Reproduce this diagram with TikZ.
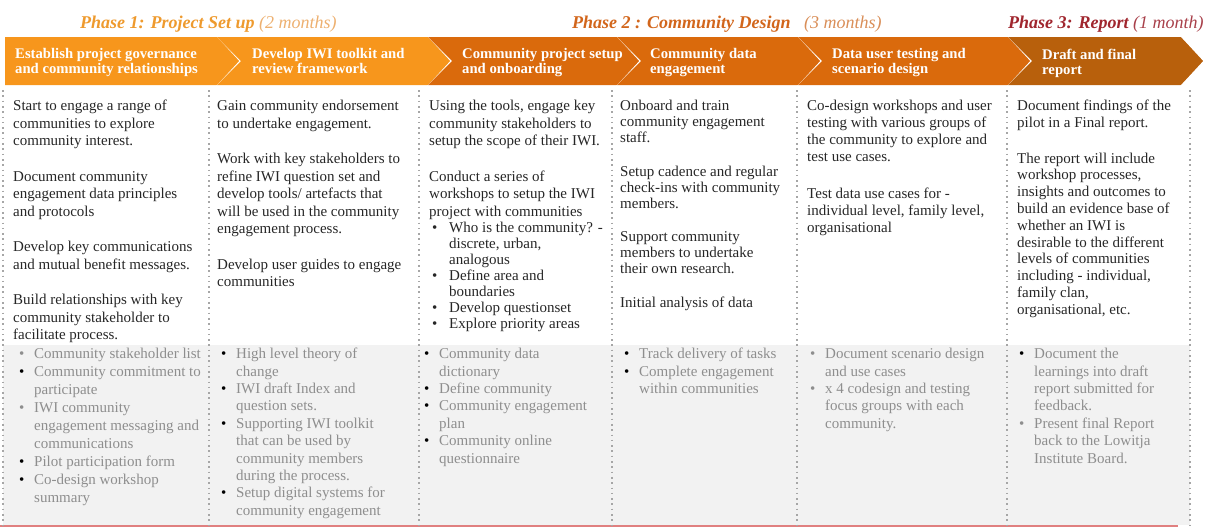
\documentclass[tikz,border=0pt]{standalone}
\usepackage{fontspec}
\setmainfont{Liberation Serif}
\usetikzlibrary{positioning}

\definecolor{stageA}{HTML}{F7961C}
\definecolor{stageB}{HTML}{DA6A0C}
\definecolor{stageC}{HTML}{B8600C}
\definecolor{titleA}{HTML}{EE9A2E}
\definecolor{monthA}{HTML}{EDB070}
\definecolor{titleB}{HTML}{D2661C}
\definecolor{monthB}{HTML}{D98E58}
\definecolor{titleC}{HTML}{A0262E}
\definecolor{monthC}{HTML}{A8404A}
\definecolor{bodytext}{HTML}{262626}
\definecolor{outtext}{HTML}{8E8E8E}
\definecolor{outgray}{HTML}{F2F2F2}
\definecolor{dotgray}{HTML}{A6A6A6}
\definecolor{rulered}{HTML}{E08080}

% bullets for the activity list and the deliverables
\newcommand{\bulA}{\makebox[20pt][l]{\hspace{3pt}\textbullet}}
\newcommand{\indA}{\makebox[20pt]{}}
\newcommand{\dotk}{\makebox[15pt][l]{\textcolor{black}{\textbullet}}}
\newcommand{\dotg}{\makebox[15pt][l]{\textbullet}}
\newcommand{\indB}{\makebox[15pt]{}}

\begin{document}
\begin{tikzpicture}[
  x=1pt,y=-1pt,
  phasetitle/.style={anchor=base west,inner sep=0pt,font=\fontsize{18}{20}\selectfont\bfseries\itshape},
  stagelabel/.style={anchor=north west,inner sep=0pt,align=left,text=white,font=\fontsize{14.7}{15}\selectfont\bfseries},
  task/.style={anchor=north west,inner sep=0pt,align=left,text=bodytext,font=\fontsize{15}{17.5}\selectfont},
  deliv/.style={anchor=north west,inner sep=0pt,align=left,text=outtext,font=\fontsize{15}{17.4}\selectfont},
  coldots/.style={draw=dotgray,line width=1.6pt,dash pattern=on 1.6pt off 3.7pt},
]
\useasboundingbox (0,0) rectangle (1207,528);

% ===================================================================
% Deliverables band and column rules
% ===================================================================
\fill[outgray] (3,345) rectangle (1190,525);
\draw[rulered,line width=1.5pt] (0,526) -- (1178,526);
\foreach \x in {3,209,419,612,797,1007,1190} { \draw[coldots] (\x,90) -- (\x,526); }

% ===================================================================
% Chevron bar
% ===================================================================
\foreach \xl/\xr/\nd/\col in {5/217/0/stageA, 217/428/24/stageA, 428/617/24/stageB,
                              617/798/24/stageB, 798/1008/24/stageB, 1008/1181/24/stageC} {
  \fill[\col] (\xl,37) -- (\xr,37) -- (\xr+24,61) -- (\xr,85) -- (\xl,85) -- (\xl+\nd,61) -- cycle;
  \draw[white,line width=2.5pt] (\xr,35) -- (\xr+24,61) -- (\xr,87);
}

% Phase titles
\node[phasetitle,text=titleA] (phA) at (80,28) {Phase 1: Project Set up \textcolor{monthA}{\textmd{(2 months)}}};
\node[phasetitle,text=titleB] (phB) at (572,28) {Phase 2 : Community Design \textcolor{monthB}{\textmd{\enspace(3 months)}}};
\node[phasetitle,text=titleC] (phC) at (1008,28) {Phase 3: Report \textcolor{monthC}{\textmd{(1 month)}}};

% Stage labels
\node[stagelabel] (hdA) at (15,48.5)   {Establish project governance\\and community relationships};
\node[stagelabel] (hdB) at (252,48.5)  {Develop IWI toolkit and\\review framework};
\node[stagelabel] (hdC) at (462,48.5)  {Community project setup\\and onboarding};
\node[stagelabel] (hdD) at (650,48.5)  {Community data\\engagement};
\node[stagelabel] (hdE) at (832,48.5)  {Data user testing and\\scenario design};
\node[stagelabel] (hdF) at (1042,48.5) {Draft and final\\report};

% ===================================================================
% Activities
% ===================================================================
\node[task] (upA) at (13,100) {Start to engage a range of\\communities to explore\\community interest.\\[18pt]
  Document community\\engagement data principles\\and protocols\\[18pt]
  Develop key communications\\and mutual benefit messages.\\[18pt]
  Build relationships with key\\community stakeholder to\\facilitate process.};
\node[task] (upB) at (217,100) {Gain community endorsement\\to undertake engagement.\\[18pt]
  Work with key stakeholders to\\refine IWI question set and\\develop tools/ artefacts that\\will be used in the community\\engagement process.\\[18pt]
  Develop user guides to engage\\communities};
\node[task] (upC) at (429,100) {Using the tools, engage key\\community stakeholders to\\setup the scope of their IWI.\\[18pt]
  Conduct a series of\\workshops to setup the IWI\\project with communities\\[-1.5pt]
  \bulA Who is the community? -\\[-1.5pt] \indA discrete, urban,\\[-1.5pt] \indA analogous\\[-1.5pt]
  \bulA Define area and\\[-1.5pt] \indA boundaries\\[-1.5pt]
  \bulA Develop questionset\\[-1.5pt]
  \bulA Explore priority areas};
\node[task,font=\fontsize{15}{16}\selectfont] (upD) at (620,100) {Onboard and train\\community engagement\\staff.\\[17.5pt]
  Setup cadence and regular\\check-ins with community\\members.\\[17.5pt]
  Support community\\members to undertake\\their own research.\\[17.5pt]
  Initial analysis of data};
\node[task,font=\fontsize{15}{17}\selectfont] (upE) at (807,100) {Co-design workshops and user\\testing with various groups of\\the community to explore and\\test use cases.\\[20pt]
  Test data use cases for -\\individual level, family level,\\organisational};
\node[task,font=\fontsize{15}{16.8}\selectfont] (upF) at (1017,100) {Document findings of the\\pilot in a Final report.\\[18.8pt]
  The report will include\\workshop processes,\\insights and outcomes to\\build an evidence base of\\whether an IWI is\\desirable to the different\\levels of communities\\including - individual,\\family clan,\\organisational, etc.};

% ===================================================================
% Deliverables
% ===================================================================
\node[deliv,font=\fontsize{15}{18}\selectfont] (lowA) at (19,348) {\dotg Community stakeholder list\\
  \dotk Community commitment to\\ \indB participate\\
  \dotg IWI community\\ \indB engagement messaging and\\ \indB communications\\
  \dotk Pilot participation form\\
  \dotk Co-design workshop\\ \indB summary};
\node[deliv] (lowB) at (221,348) {\dotk High level theory of\\ \indB change\\
  \dotk IWI draft Index and\\ \indB question sets.\\
  \dotk Supporting IWI toolkit\\ \indB that can be used by\\ \indB community members\\ \indB during the process.\\
  \dotk Setup digital systems for\\ \indB community engagement};
\node[deliv] (lowC) at (424,348) {\dotk Community data\\ \indB dictionary\\
  \dotk Define community\\
  \dotk Community engagement\\ \indB plan\\
  \dotk Community online\\ \indB questionnaire};
\node[deliv] (lowD) at (624,348) {\dotk Track delivery of tasks\\
  \dotk Complete engagement\\ \indB within communities};
\node[deliv] (lowE) at (810,348) {\dotg Document scenario design\\ \indB and use cases\\
  \dotg x 4 codesign and testing\\ \indB focus groups with each\\ \indB community.};
\node[deliv] (lowF) at (1019,348) {\dotk Document the\\ \indB learnings into draft\\ \indB report submitted for\\ \indB feedback.\\
  \dotg Present final Report\\ \indB back to the Lowitja\\ \indB Institute Board.};

\end{tikzpicture}
\end{document}
